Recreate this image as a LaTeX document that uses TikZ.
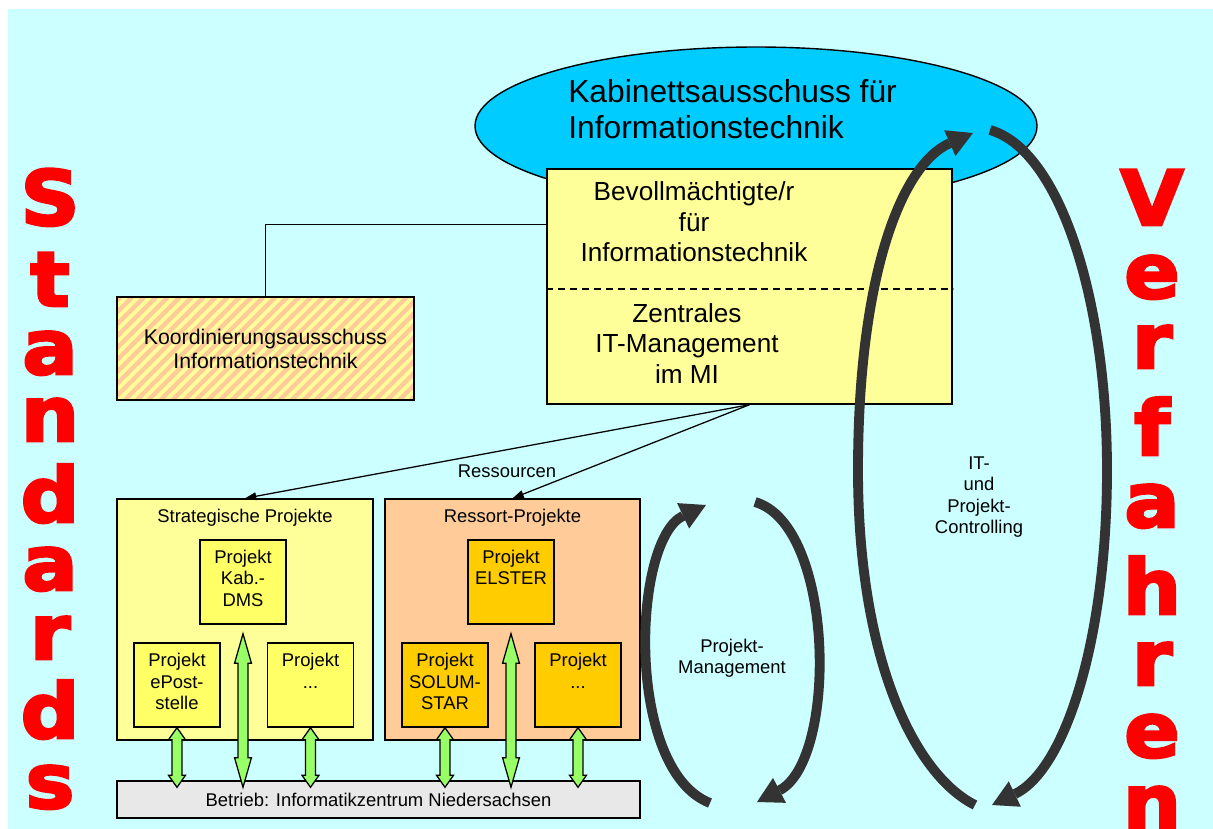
\documentclass[tikz,border=0pt]{standalone}
\usepackage{fontspec}
\setmainfont{Liberation Sans}
\newfontfamily\heavyfont{DejaVu Sans Bold}[FakeBold=3.5,FakeStretch=1.08]
\usepackage{xcolor}
\usepackage{tikz}
\usetikzlibrary{positioning,arrows.meta,calc,shapes.geometric,patterns.meta}

\definecolor{bgcyan}{HTML}{CCFFFF}
\definecolor{kabblue}{HTML}{00CCFF}
\definecolor{boxyellow}{HTML}{FFFF99}
\definecolor{hatchorange}{HTML}{FFCC99}
\definecolor{projyellow}{HTML}{FFFF66}
\definecolor{projorange}{HTML}{FFCC00}
\definecolor{betriebgray}{HTML}{E8E8E8}
\definecolor{arrowgreen}{HTML}{99FF66}
\definecolor{arcgray}{HTML}{333333}
\definecolor{letterred}{HTML}{FF0000}

\newlength\pxu
\setlength\pxu{0.025cm}

% green double arrow between a project box and the Betrieb bar
\newcommand\linkarrow[4]{%
  \draw[greenarrow] let \p1=($(#1.south)+(0,#3)$), \p2=($(#2.north)+(0,7)$) in
    (\x1,\y1) -- ({\x1+6pt},{\y1-#4}) -- ({\x1+3.5pt},{\y1-#4})
    -- ({\x1+3.5pt},{\y2+#4}) -- ({\x1+6pt},{\y2+#4}) -- (\x1,\y2)
    -- ({\x1-6pt},{\y2+#4}) -- ({\x1-3.5pt},{\y2+#4})
    -- ({\x1-3.5pt},{\y1-#4}) -- ({\x1-6pt},{\y1-#4}) -- cycle;}

\begin{document}
\begin{tikzpicture}[
  x=0.025cm, y=-0.025cm,
  font=\fontsize{13.1}{15.2}\selectfont,
  blockbox/.style={draw, line width=1pt, inner sep=0pt, align=center},
  projbox/.style={blockbox, minimum width=86\pxu, minimum height=84\pxu},
  projtext/.style={align=center, inner sep=0pt},
  greenarrow/.style={draw, line width=0.9pt, fill=arrowgreen, line join=miter},
  looparrow/.style={draw=arcgray, line width=7pt,
                    -{Triangle[length=18pt,width=20pt,line width=0pt]}},
  resarrow/.style={draw, line width=0.9pt, -{Triangle[length=8pt,width=5.5pt]}},
  bigletter/.style={text=letterred, font=\heavyfont\fontsize{54}{54}\selectfont,
                    inner sep=0pt, anchor=base}
]
\useasboundingbox (0,0) rectangle (1213,829);
\fill[bgcyan] (8,9) rectangle (1213,829);

% top: cabinet committee and central IT management
\node[draw, line width=1pt, ellipse, fill=kabblue, inner sep=0pt,
      minimum width=562\pxu, minimum height=158\pxu] (kab) at (756,126) {};
\node[anchor=west, align=left, inner sep=0pt,
      font=\fontsize{22.6}{25.5}\selectfont] (kabtxt) at (568,109)
  {Kabinettsausschuss für\\Informationstechnik};

\node[blockbox, fill=boxyellow, minimum width=405\pxu, minimum height=235\pxu]
  (it) at (749.5,286.5) {};
\draw[line width=0.8pt, dash pattern=on 5pt off 3.5pt]
  ($(it.west)+(0,2.5)$) -- ($(it.east)+(0,2.5)$);
\node[align=center, inner sep=0pt, font=\fontsize{18.6}{21.6}\selectfont]
  (bev) at (694,222) {Bevollmächtigte/r\\für\\Informationstechnik};
\node[align=center, inner sep=0pt, font=\fontsize{18.6}{21.6}\selectfont]
  (zim) at (687,343.4) {Zentrales\\IT-Management\\im MI};

\node[blockbox, minimum width=297\pxu, minimum height=103\pxu,
      preaction={fill=hatchorange},
      preaction={pattern={Lines[angle=45,distance=6pt,line width=2.6pt]},
                 pattern color=boxyellow},
      font=\fontsize{15.1}{17}\selectfont] (koord) at (265.5,348.5)
  {Koordinierungsausschuss\\Informationstechnik};
\draw[line width=0.8pt] (koord.north) |- ($(it.north west)+(0,56)$);

% project groups
\node[blockbox, fill=boxyellow, minimum width=256\pxu, minimum height=241\pxu]
  (strat) at (245,619.5) {};
\node[projtext, below=7.4pt of strat.north] (strattitle) {Strategische Projekte};
\node[blockbox, fill=hatchorange, minimum width=255\pxu, minimum height=241\pxu]
  (ressort) at (512.5,619.5) {};
\node[projtext, below=7.4pt of ressort.north] (ressorttitle) {Ressort-Projekte};

\node[projbox, fill=projyellow] (dms) at (243,582) {};
\node[projtext, below=7.4pt of dms.north] (dmstxt) {Projekt\\Kab.-\\DMS};
\node[projbox, fill=projyellow] (epost) at (177,685) {};
\node[projtext, below=7.8pt of epost.north] (eposttxt) {Projekt\\ePost-\\stelle};
\node[projbox, fill=projyellow] (pleft) at (310.5,685) {};
\node[projtext, below=7.8pt of pleft.north] (plefttxt) {Projekt\\...};

\node[projbox, fill=projorange] (elster) at (511,582) {};
\node[projtext, below=7.4pt of elster.north] (elstertxt) {Projekt\\ELSTER};
\node[projbox, fill=projorange] (solum) at (445,685) {};
\node[projtext, below=7.8pt of solum.north] (solumtxt) {Projekt\\SOLUM-\\STAR};
\node[projbox, fill=projorange] (pright) at (578,685) {};
\node[projtext, below=7.8pt of pright.north] (prighttxt) {Projekt\\...};

\node[blockbox, fill=betriebgray, minimum width=523\pxu, minimum height=37\pxu]
  (betrieb) at (378.5,799.5) {Betrieb: Informatikzentrum Niedersachsen};

\linkarrow{epost}{betrieb}{0}{8.5pt}
\linkarrow{dms}{betrieb}{9}{21pt}
\linkarrow{pleft}{betrieb}{0}{8.5pt}
\linkarrow{solum}{betrieb}{0}{8.5pt}
\linkarrow{elster}{betrieb}{9}{21pt}
\linkarrow{pright}{betrieb}{0}{8.5pt}

% resources
\draw[resarrow] (it.south) -- (strat.north);
\draw[resarrow] (it.south) -- (ressort.north);
\node[anchor=base, inner sep=0pt] (restxt) at (507,477) {Ressourcen};

% management loops
\coordinate (pmbl) at (710,803);
\coordinate (pmtl) at (706,505);
\coordinate (pmtr) at (755,502);
\coordinate (pmbr) at (757,802);
\draw[looparrow] (pmbl) .. controls (625,770) and (632,540) .. (pmtl);
\draw[looparrow] (pmtr) .. controls (835,525) and (838,760) .. (pmbr);
\node[align=center, inner sep=0pt] (pmtxt) at (732,658) {Projekt-\\Management};

\coordinate (ctbl) at (975,805);
\coordinate (ctl) at (858,470);
\coordinate (cttl) at (973,133);
\coordinate (cttr) at (990,130);
\coordinate (ctr) at (1107,470);
\coordinate (ctbr) at (992,805);
\draw[looparrow] (ctbl) .. controls (915,775) and (858,660) .. (ctl)
  .. controls (858,280) and (900,165) .. (cttl);
\draw[looparrow] (cttr) .. controls (1060,150) and (1107,300) .. (ctr)
  .. controls (1107,640) and (1065,770) .. (ctbr);
\node[align=center, inner sep=0pt] (cttxt) at (979,497)
  {IT-\\und\\Projekt-\\Controlling};

% side captions
\foreach \ch/\yb in {S/225, t/306, a/374, n/441, d/522, a/590, r/659, d/738, s/808}
  \node[bigletter] (std-\yb) at (50,\yb) {\ch};
\foreach \ch/\yb in {V/225, e/298, r/368, f/455, a/527, h/614, r/685, e/757, n/829}
  \node[bigletter] (vf-\yb) at (1152,\yb) {\ch};
\end{tikzpicture}
\end{document}
